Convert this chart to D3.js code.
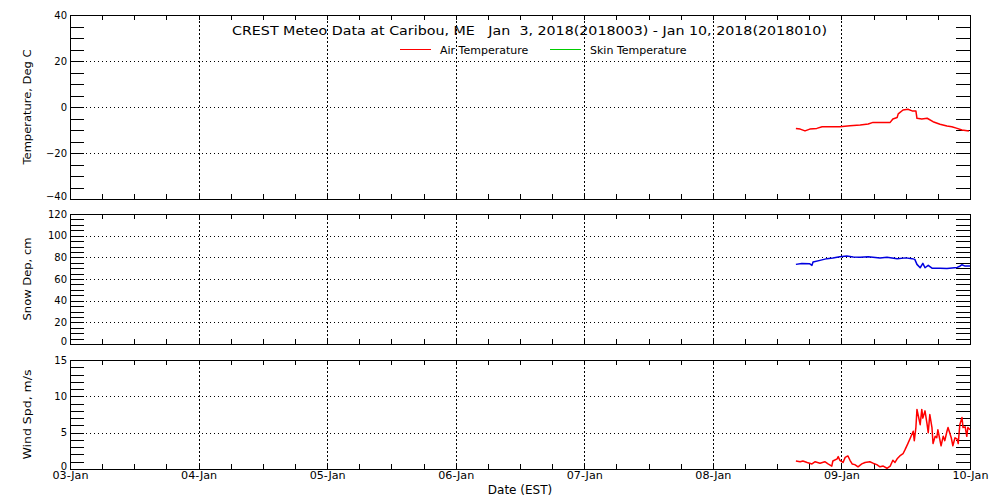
<html lang="en">
<head>
  <meta charset="utf-8">
  <title>CREST Meteo Data at Caribou, ME</title>
  <script src="https://d3js.org/d3.v7.min.js"></script>
  <style>
    body { margin: 0; background: #fff; }
    text { font-family: "DejaVu Sans", sans-serif; fill: #000; }
    .frame { fill: none; stroke: #000; stroke-width: 1; shape-rendering: crispEdges; }
    .tick line { stroke: #000; shape-rendering: crispEdges; }
    .hgrid .tick line { stroke-dasharray: 1,3; }
    .vgrid .tick line { stroke-dasharray: 2,2; }
    .domain { display: none; }
    .data { fill: none; stroke-width: 1.5; stroke-linejoin: round; }
  </style>
</head>
<body>
<svg id="chart"></svg>

<script>
// day tick labels along the bottom axis
var dayLabels = ["03-Jan", "04-Jan", "05-Jan", "06-Jan", "07-Jan", "08-Jan", "09-Jan", "10-Jan"];

// labelled y ticks for each panel
var tempTicks = [-40, -20, 0, 20, 40];
var snowTicks = [0, 20, 40, 60, 80, 100, 120];
var windTicks = [0, 5, 10, 15];

// all series: hours after 2018-01-08 00:00 (EST)
var airHours = [15.5, 16.3, 17.2, 18.1, 19.4, 20.4, 23.7, 25.6, 27.5, 29.0,
                29.9, 33.1, 33.6, 34.4, 34.6, 35.5, 36.4, 37.2, 37.9, 38.1,
                39.0, 40.0, 41.1, 42.4, 43.7, 44.6, 45.6, 46.5, 47.8];
var airTemp = [-9.3, -9.6, -10.4, -9.6, -9.3, -8.6, -8.6, -8.1, -7.8, -7.4,
               -6.7, -6.7, -5.2, -4.6, -3.0, -1.3, -1.0, -1.7, -1.7, -4.9,
               -5.2, -4.9, -6.4, -7.5, -8.3, -8.6, -9.3, -10.0, -10.4];

var snowHours = [15.5, 16.6, 18.1, 18.5, 18.7, 20.0, 21.3, 22.4, 23.7, 25.0,
                 26.2, 27.5, 29.0, 31.2, 32.5, 34.4, 36.0, 37.2, 37.7, 38.1,
                 38.7, 39.2, 39.6, 40.2, 40.9, 42.4, 43.7, 45.6, 46.0, 46.5,
                 47.1, 48.0];
var snowDepth = [73.5, 74.4, 74.0, 72.6, 75.6, 77.2, 78.8, 79.4, 80.6, 81.2,
                 80.3, 80.0, 80.6, 79.4, 80.1, 78.8, 79.5, 78.8, 78.1, 73.5,
                 70.4, 74.4, 70.4, 72.6, 70.0, 70.0, 69.8, 70.7, 71.5, 73.2,
                 71.9, 71.9];

var windHours = [15.5, 16.3, 16.8, 17.6, 18.5, 19.1, 20.0, 20.9, 21.5, 22.2,
                 22.4, 23.2, 23.4, 23.7, 24.3, 24.7, 25.2, 25.6, 26.0, 26.5,
                 27.1, 27.8, 28.4, 29.3, 29.9, 30.6, 31.2, 31.8, 32.5, 33.1,
                 33.6, 34.0, 34.4, 34.9, 35.5, 35.9, 36.4, 37.0, 37.4, 37.6,
                 37.9, 38.1, 38.3, 38.7, 39.0, 39.2, 39.6, 40.0, 40.2, 40.5,
                 40.9, 41.1, 41.5, 41.8, 42.0, 42.6, 43.0, 43.3, 43.7, 43.9,
                 44.5, 44.8, 45.2, 45.6, 45.8, 46.1, 46.5, 46.7, 47.1, 47.4,
                 47.6, 48.0];
var windSpeed = [1.1, 1.0, 1.1, 0.9, 0.7, 1.0, 0.8, 1.0, 0.7, 0.4,
                 1.1, 1.4, 1.7, 1.2, 0.9, 1.6, 1.8, 1.2, 0.7, 0.6,
                 0.3, 0.7, 0.9, 1.0, 0.8, 0.6, 0.3, 0.4, 0.1, 0.4,
                 1.2, 0.9, 1.4, 1.8, 2.1, 2.7, 3.5, 4.5, 5.2, 3.9,
                 5.7, 8.2, 7.5, 6.1, 8.2, 7.0, 8.0, 6.1, 5.0, 7.5,
                 5.7, 3.5, 4.5, 4.3, 5.4, 3.2, 4.5, 3.9, 5.2, 5.7,
                 4.3, 3.2, 4.3, 4.1, 3.5, 6.1, 7.1, 5.7, 5.8, 4.5,
                 5.7, 5.4];

var config = {
  w: 1000,
  h: 500,
  left: 70,
  right: 970,
  tick: 14,
  xtick: 5
};

var startDate = new Date(2018, 0, 3);
var endDate = new Date(2018, 0, 10);
var baseDate = new Date(2018, 0, 8);

function toTime(h) {
  return d3.timeMinute.offset(baseDate, Math.round(h * 60));
}

function zip(hours, values) {
  return hours.map(function(h, i) { return { t: toTime(h), v: values[i] }; });
}

var svg = d3.select("#chart")
  .attr("width", config.w)
  .attr("height", config.h);

var x = d3.scaleTime()
  .domain([startDate, endDate])
  .range([config.left, config.right]);

var days = d3.timeDay.range(startDate, d3.timeDay.offset(endDate, 1));

var panels = [
  { top: 15, bottom: 199, domain: [-40, 40], minor: 5, labels: tempTicks,
    title: "Temperature, Deg C", titleLen: 115,
    series: [{ data: zip(airHours, airTemp), color: "#ff0000" }] },
  { top: 214, bottom: 344, domain: [0, 120], minor: 5, labels: snowTicks,
    title: "Snow Dep, cm", titleLen: 83,
    series: [{ data: zip(snowHours, snowDepth), color: "#0000e0" }] },
  { top: 360, bottom: 469, domain: [0, 15], minor: 1, labels: windTicks,
    title: "Wind Spd, m/s", titleLen: 90,
    series: [{ data: zip(windHours, windSpeed), color: "#ff0000" }] }
];

panels.forEach(function(p, i) {
  drawPanel(p, i == panels.length - 1);
});

function drawPanel(p, last) {
  var y = d3.scaleLinear().domain(p.domain).range([p.bottom, p.top]);
  var width = config.right - config.left;
  var height = p.bottom - p.top;
  var g = svg.append("g");

  // dotted horizontal grid at inner labelled ticks
  var inner = p.labels.filter(function(v) { return v > p.domain[0] && v < p.domain[1]; });
  g.append("g")
    .attr("class", "hgrid")
    .attr("transform", "translate(" + config.left + ",0)")
    .call(d3.axisLeft(y).tickValues(inner).tickSize(-width).tickFormat(""));

  // dotted vertical grid at each day
  g.append("g")
    .attr("class", "vgrid")
    .attr("transform", "translate(0," + p.bottom + ")")
    .call(d3.axisBottom(x).tickValues(days.slice(1, -1)).tickSize(-height).tickFormat(""));

  // y ticks, inward on both sides
  var minor = d3.range(p.domain[0], p.domain[1] + 0.001, p.minor);
  g.append("g")
    .attr("transform", "translate(" + config.left + ",0)")
    .call(d3.axisLeft(y).tickValues(minor).tickSize(-config.tick).tickFormat(""));
  g.append("g")
    .attr("transform", "translate(" + config.right + ",0)")
    .call(d3.axisRight(y).tickValues(minor).tickSize(-config.tick).tickFormat(""));

  // x ticks every 6 hours, inward on top and bottom
  var hours6 = d3.timeHour.every(6).range(startDate, endDate);
  g.append("g")
    .attr("transform", "translate(0," + p.top + ")")
    .call(d3.axisTop(x).tickValues(hours6).tickSize(-config.xtick).tickFormat(""));
  g.append("g")
    .attr("transform", "translate(0," + p.bottom + ")")
    .call(d3.axisBottom(x).tickValues(hours6).tickSize(-config.xtick).tickFormat(""));

  // y tick labels, the lowest one sits on the axis line
  var yl = g.append("g")
    .attr("transform", "translate(" + config.left + ",0)")
    .call(d3.axisLeft(y).tickValues(p.labels).tickSize(0).tickPadding(3));
  yl.selectAll("text")
    .style("font-family", "DejaVu Sans")
    .style("font-size", "10px")
    .attr("dy", function(d) { return d == p.domain[0] ? "0em" : "0.32em"; });

  // y axis title
  g.append("text")
    .attr("transform", "translate(31," + ((p.top + p.bottom) / 2) + ") rotate(-90)")
    .attr("text-anchor", "middle")
    .attr("textLength", p.titleLen)
    .attr("lengthAdjust", "spacingAndGlyphs")
    .style("font-size", "11px")
    .text(p.title);

  // frame
  g.append("rect")
    .attr("class", "frame")
    .attr("x", config.left + 0.5)
    .attr("y", p.top + 0.5)
    .attr("width", width)
    .attr("height", height);

  // data lines
  var line = d3.line()
    .x(function(d) { return x(d.t); })
    .y(function(d) { return y(d.v); });

  p.series.forEach(function(s) {
    g.append("path")
      .attr("class", "data")
      .attr("d", line(s.data))
      .style("stroke", s.color);
  });

  if (last) {
    var xl = g.append("g")
      .attr("transform", "translate(0," + p.bottom + ")")
      .call(d3.axisBottom(x).tickValues(days).tickSize(0).tickPadding(3)
        .tickFormat(function(d, i) { return dayLabels[i]; }));
    xl.selectAll("text")
      .attr("textLength", 36)
      .attr("lengthAdjust", "spacingAndGlyphs")
      .style("font-family", "DejaVu Sans")
      .style("font-size", "10px");

    g.append("text")
      .attr("x", (config.left + config.right) / 2)
      .attr("y", 494)
      .attr("text-anchor", "middle")
      .style("font-size", "12px")
      .text("Date (EST)");
  }
}

// title
svg.append("text")
  .attr("x", 232)
  .attr("y", 35)
  .attr("textLength", 595)
  .attr("lengthAdjust", "spacingAndGlyphs")
  .style("white-space", "pre")
  .style("font-size", "13px")
  .text("CREST Meteo Data at Caribou, ME   Jan  3, 2018(2018003) - Jan 10, 2018(2018010)");

// legend
var legendItems = [
  { name: "Air Temperature", color: "#ff0000", x: 400 },
  { name: "Skin Temperature", color: "#00cc00", x: 550 }
];

legendItems.forEach(function(d) {
  svg.append("line")
    .attr("x1", d.x).attr("x2", d.x + 31)
    .attr("y1", 49.5).attr("y2", 49.5)
    .style("stroke", d.color);
  svg.append("text")
    .attr("x", d.x + 40)
    .attr("y", 54)
    .style("font-size", "11px")
    .text(d.name);
});
</script>
</body>
</html>
